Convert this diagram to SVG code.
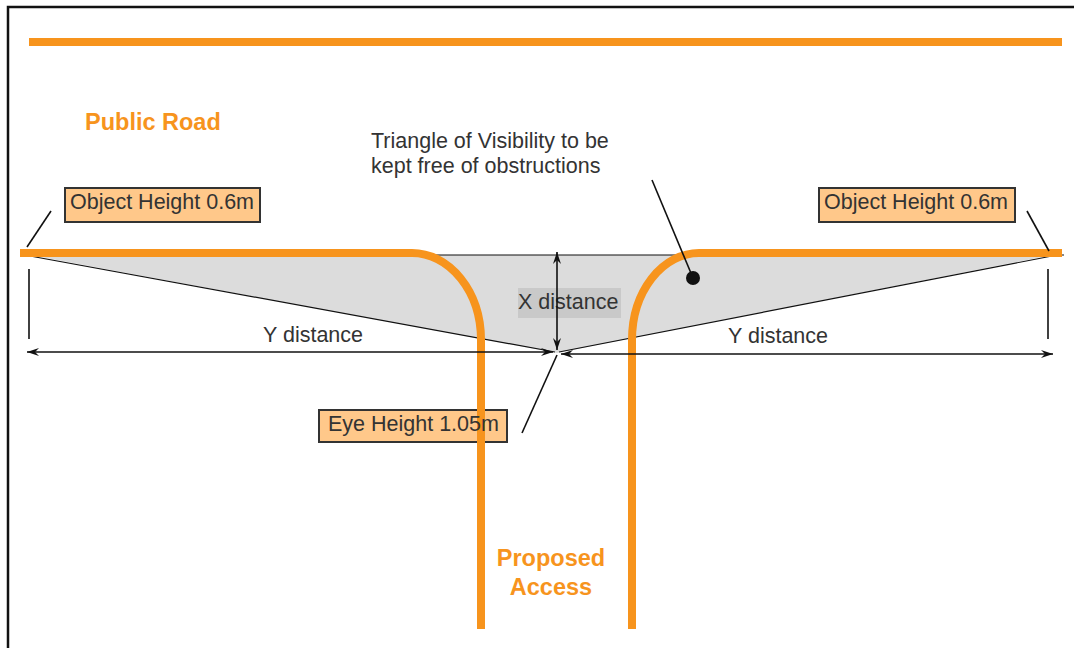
<svg xmlns="http://www.w3.org/2000/svg" width="1074" height="648" viewBox="0 0 1074 648">
<defs>
<marker id="arr" viewBox="0 0 12 8" refX="12" refY="4" markerWidth="12" markerHeight="8" markerUnits="userSpaceOnUse" orient="auto-start-reverse">
<path d="M0,0 L12,4 L0,8 L4,4 z" fill="#111"/>
</marker>
</defs>
<style>
.road{fill:none;stroke:#F7941D;stroke-width:8}
.thin{fill:none;stroke:#111;stroke-width:1.2}
.lead{fill:none;stroke:#111;stroke-width:1.6}
.dim{fill:none;stroke:#111;stroke-width:1.6}
.t{font-family:"Liberation Sans",Arial,sans-serif;font-size:21.5px;fill:#333}
.o{font-family:"Liberation Sans",Arial,sans-serif;font-size:23.5px;font-weight:bold;fill:#F7941D}
.box{fill:#FFC88A;stroke:#333;stroke-width:2}
</style>
<rect width="1074" height="648" fill="#fff"/>
<path d="M8,648 V7 H1074" fill="none" stroke="#111" stroke-width="2.5"/>
<line x1="29" y1="42" x2="1062" y2="42" class="road"/>
<text x="85" y="130" class="o">Public Road</text>

<g id="triangle">
<polygon points="30,255 557,353 1052,255" fill="#DCDCDC"/>
<line x1="30" y1="255" x2="1064" y2="255" class="thin"/>
<line x1="30" y1="256" x2="555" y2="352" class="thin"/>
<line x1="1052" y1="256" x2="559" y2="352" class="thin"/>
</g>

<g id="x-distance">
<rect x="518" y="288" width="103" height="30" fill="#C9C9C9"/>
<text x="518" y="309" class="t">X distance</text>
</g>

<g id="eye-height">
<rect x="319" y="410" width="188" height="32" class="box"/>
</g>

<g id="roads">
<path d="M20,253 H412 A69 87 0 0 1 481 340 V629" class="road"/>
<path d="M632,629 V340 A67 87 0 0 1 699 253 H1062" class="road"/>
<rect x="485" y="543" width="140" height="72" fill="#fff"/>
</g>

<g id="eye-height-label">
<text x="328" y="431" class="t">Eye Height 1.05m</text>
</g>

<g id="object-left">
<rect x="65" y="188" width="195" height="34" class="box"/>
<text x="70" y="209" class="t">Object Height 0.6m</text>
</g>
<g id="object-right">
<rect x="819" y="188" width="196" height="34" class="box"/>
<text x="824" y="209" class="t">Object Height 0.6m</text>
</g>

<g id="triangle-label">
<text x="371" y="148" class="t">Triangle of Visibility to be</text>
<text x="371" y="173" class="t">kept free of obstructions</text>
</g>

<g id="proposed-access">
<text x="551" y="566" class="o" text-anchor="middle">Proposed</text>
<text x="551" y="595" class="o" text-anchor="middle">Access</text>
</g>

<g id="connectors">
<line x1="51" y1="211" x2="27" y2="247" class="lead"/>
<line x1="1027" y1="211" x2="1049" y2="251" class="lead"/>
<line x1="652" y1="180" x2="693" y2="278" class="lead"/>
<circle cx="693" cy="278" r="7" fill="#111"/>
<line x1="557" y1="355" x2="522" y2="433" class="lead"/>
<line x1="29" y1="269" x2="29" y2="339" class="lead"/>
<line x1="1048" y1="269" x2="1048" y2="339" class="lead"/>
<line x1="557" y1="350" x2="557" y2="252" class="dim" marker-start="url(#arr)" marker-end="url(#arr)"/>
<line x1="27" y1="352" x2="553" y2="352" class="dim" marker-start="url(#arr)" marker-end="url(#arr)"/>
<line x1="561" y1="354" x2="1053" y2="354" class="dim" marker-start="url(#arr)" marker-end="url(#arr)"/>
</g>

<g id="y-labels">
<text x="263" y="342" class="t">Y distance</text>
<text x="728" y="343" class="t">Y distance</text>
</g>
</svg>
